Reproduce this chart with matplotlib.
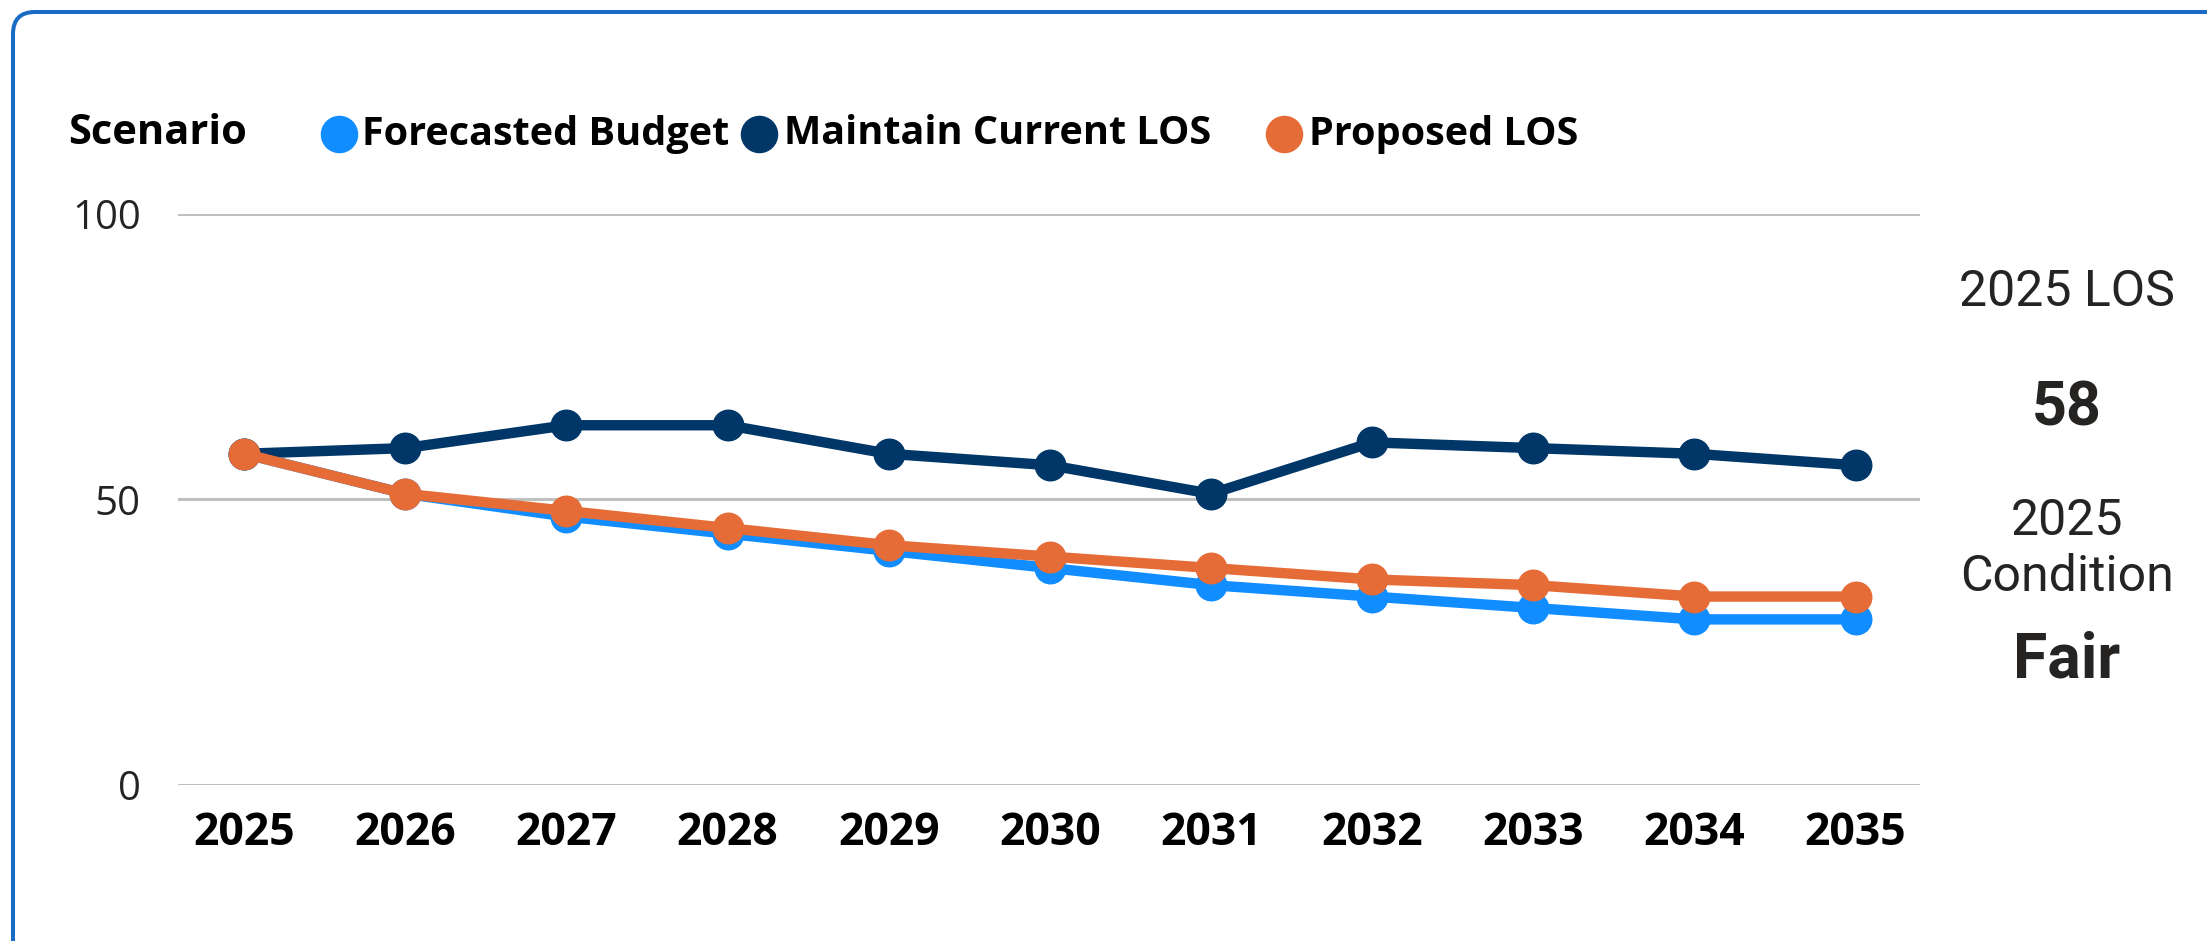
import matplotlib
matplotlib.use("Agg")
import matplotlib.pyplot as plt
from matplotlib.lines import Line2D
from matplotlib.patches import FancyBboxPatch
from matplotlib.transforms import IdentityTransform

years = list(range(2025, 2036))
forecasted_budget = [58, 51, 47, 44, 41, 38, 35, 33, 31, 29, 29]
maintain_current = [58, 59, 63, 63, 58, 56, 51, 60, 59, 58, 56]
proposed_los = [58, 51, 48, 45, 42, 40, 38, 36, 35, 33, 33]
series_names = ["Forecasted Budget", "Maintain Current LOS", "Proposed LOS"]
series_colors = ["#118DFF", "#003768", "#E66C37"]
y_ticks = [0, 50, 100]

side_los_label = "2025 LOS"
side_los_value = "58"
side_cond_label = "2025\nCondition"
side_cond_value = "Fair"

text_color = "#252423"
W, H = 2207, 941

fig = plt.figure(figsize=(22.07, 9.41), dpi=100)
ax = fig.add_axes([0.0807, 0.1658, 0.7893, 0.6068])

for vals, name, c in zip([forecasted_budget, maintain_current, proposed_los],
                         series_names, series_colors):
    ax.plot(years, vals, color=c, lw=7.5, marker="o", ms=22, label=name,
            clip_on=False, zorder=3)

ax.set_xlim(2024.59, 2035.4)
ax.set_ylim(0, 100)
ax.set_yticks(y_ticks)
ax.set_xticks(years)
ax.set_xticklabels([str(y) for y in years], fontfamily="Open Sans",
                   fontweight="bold", fontsize=32, color="black")
ax.set_yticklabels([str(t) for t in y_ticks], fontfamily="Open Sans",
                   fontsize=29, color=text_color)
ax.tick_params(axis="x", length=0, pad=19)
ax.tick_params(axis="y", length=0, pad=27)
ax.grid(axis="y", color="#c0c0c0", lw=2.2)
ax.set_axisbelow(True)
for s in ax.spines.values():
    s.set_visible(False)

# legend row (laid out by hand, one entry per series)
leg_y = 1 - 134 / H
fig.text(68 / W, leg_y, "Scenario", ha="left", va="center",
         fontfamily="Open Sans", fontweight="bold", fontsize=30, color="black")
dot_x = [339, 759, 1284]
label_x = [362, 784, 1309]
for name, c, dx, lx in zip(series_names, series_colors, dot_x, label_x):
    fig.add_artist(Line2D([dx / W], [leg_y], color=c, marker="o", ms=26, lw=0,
                          transform=fig.transFigure))
    fig.text(lx / W, leg_y, name, ha="left", va="center", fontfamily="Open Sans",
             fontweight="bold", fontsize=28.5, color="black")

# side cards
cx = 2067 / W
fig.text(cx, 1 - 292 / H, side_los_label, ha="center", va="center",
         fontfamily="Roboto", fontsize=36, color=text_color)
fig.text(cx, 1 - 409 / H, side_los_value, ha="center", va="center",
         fontfamily="Roboto", fontweight="bold", fontsize=44, color=text_color)
fig.text(cx, 1 - 549 / H, side_cond_label, ha="center", va="center",
         fontfamily="Roboto", fontsize=36, color=text_color, linespacing=1.2)
fig.text(cx, 1 - 660 / H, side_cond_value, ha="center", va="center",
         fontfamily="Roboto", fontweight="bold", fontsize=45, color=text_color)

# card border
border = FancyBboxPatch((13, -30), 2227, 959, boxstyle="round,pad=0,rounding_size=22",
                        lw=2.9, ec="#1a6bc4", fc="none", transform=IdentityTransform())
fig.patches.append(border)

fig.savefig("out.png", dpi=100)
